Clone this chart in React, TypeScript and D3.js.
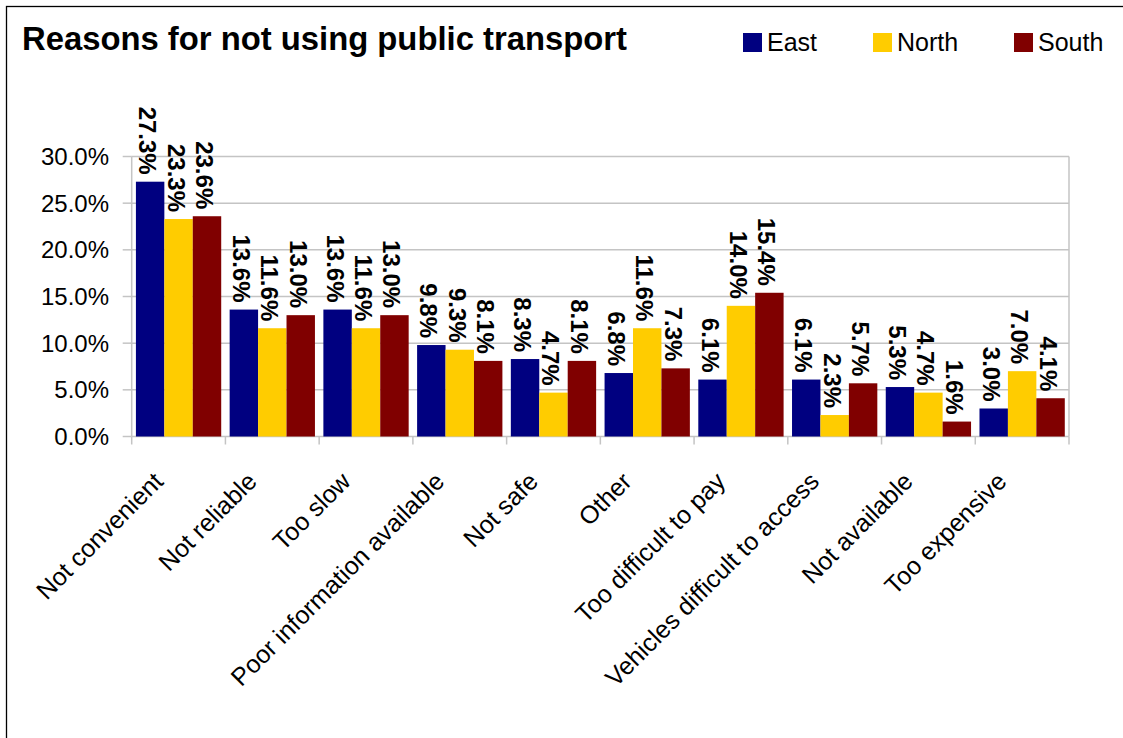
import React from "react";
import * as d3 from "d3";

const categories = [
  "Not convenient",
  "Not reliable",
  "Too slow",
  "Poor information available",
  "Not safe",
  "Other",
  "Too difficult to pay",
  "Vehicles difficult to access",
  "Not available",
  "Too expensive",
];
const seriesNames = ["East", "North", "South"];
const east = [27.3, 13.6, 13.6, 9.8, 8.3, 6.8, 6.1, 6.1, 5.3, 3.0];
const north = [23.3, 11.6, 11.6, 9.3, 4.7, 11.6, 14.0, 2.3, 4.7, 7.0];
const south = [23.6, 13.0, 13.0, 8.1, 8.1, 7.3, 15.4, 5.7, 1.6, 4.1];
const yTicks = [0, 5, 10, 15, 20, 25, 30];
const colors = ["#000080", "#FFCC00", "#800000"];
const title = "Reasons for not using public transport";

export default function App() {
  const W = 1123;
  const H = 738;
  const left = 131.7;
  const right = 1069;
  const top = 156.5;
  const bottom = 436.5;
  const font = "Arial, 'Liberation Sans', sans-serif";

  const y = d3.scaleLinear().domain([0, 30]).range([bottom, top]);
  const x = d3
    .scaleBand<string>()
    .domain(categories)
    .range([left, right])
    .paddingInner(0.09)
    .paddingOuter(0.045);
  const xs = d3
    .scaleBand<string>()
    .domain(seriesNames)
    .range([0, x.bandwidth()]);
  const data = [east, north, south];
  const step = x.step();

  return (
    <svg
      width={W}
      height={H}
      style={{ position: "absolute", left: 0, top: 0, background: "#fff" }}
      fontFamily={font}
    >
      <rect x={0} y={0} width={W} height={H} fill="#fff" />
      <rect x={6.5} y={6.5} width={W + 20} height={H + 20} fill="none" stroke="#000" strokeWidth={1.3} />
      <text x={22} y={50} fontSize={32.8} fontWeight="bold" fill="#000">
        {title}
      </text>
      {/* legend */}
      {seriesNames.map((s, i) => {
        const lx = [743, 873, 1014][i];
        return (
          <g key={s}>
            <rect x={lx} y={33} width={19} height={19} fill={colors[i]} />
            <text x={lx + 24} y={51} fontSize={25} fill="#000">
              {s}
            </text>
          </g>
        );
      })}
      {/* gridlines */}
      {yTicks.map((t) => (
        <g key={t}>
          <line x1={left} x2={right} y1={y(t)} y2={y(t)} stroke="#c4c4c4" strokeWidth={1.5} />
          <line x1={left - 9} x2={left} y1={y(t)} y2={y(t)} stroke="#c4c4c4" strokeWidth={1.5} />
          <text x={109} y={y(t) + 8.5} fontSize={24} textAnchor="end" fill="#000">
            {t.toFixed(1) + "%"}
          </text>
        </g>
      ))}
      {/* plot border */}
      <line x1={left} x2={left} y1={top} y2={bottom} stroke="#c4c4c4" strokeWidth={1.5} />
      <line x1={right} x2={right} y1={top} y2={bottom} stroke="#c4c4c4" strokeWidth={1.5} />
      {/* category ticks */}
      {d3.range(categories.length + 1).map((i) => (
        <line
          key={i}
          x1={left + i * step}
          x2={left + i * step}
          y1={bottom}
          y2={bottom + 8}
          stroke="#c4c4c4"
          strokeWidth={1.5}
        />
      ))}
      {/* bars */}
      {categories.map((c, ci) => (
        <g key={c}>
          {seriesNames.map((s, si) => {
            const v = data[si][ci];
            const bx = (x(c) as number) + (xs(s) as number);
            const bw = xs.bandwidth();
            return (
              <rect key={s} x={bx} y={y(v)} width={bw} height={bottom - y(v)} fill={colors[si]} />
            );
          })}
        </g>
      ))}
      {/* value labels */}
      {categories.map((c, ci) => (
        <g key={c + "l"}>
          {seriesNames.map((s, si) => {
            const v = data[si][ci];
            const cx = (x(c) as number) + (xs(s) as number) + xs.bandwidth() / 2;
            return (
              <text
                key={s}
                transform={`translate(${cx - 11},${y(v) - 7}) rotate(90)`}
                textAnchor="end"
                fontSize={24}
                fontWeight="bold"
                fill="#000"
              >
                {v.toFixed(1) + "%"}
              </text>
            );
          })}
        </g>
      ))}
      {/* category labels */}
      {categories.map((c) => {
        const cx = (x(c) as number) + x.bandwidth() / 2;
        return (
          <text
            key={c + "c"}
            transform={`translate(${cx - 14},${483}) rotate(-45)`}
            textAnchor="end"
            fontSize={25}
            fill="#000"
          >
            {c}
          </text>
        );
      })}
    </svg>
  );
}
